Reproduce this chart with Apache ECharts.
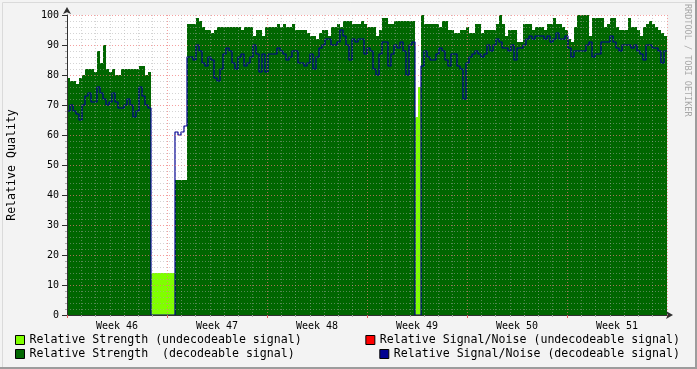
<!DOCTYPE html>
<html><head><meta charset="utf-8">
<script src="https://cdn.jsdelivr.net/npm/echarts@6/dist/echarts.min.js"></script>
<style>html,body{margin:0;padding:0;background:#f3f3f3}#c{width:697px;height:369px}</style>
</head><body><div id="c"></div>
<script>
// 6 weeks (1008 h) sampled in 201 points, every 5.04 h
const weekLabels = ['Week 46','Week 47','Week 48','Week 49','Week 50','Week 51'];
const totalHours = 1008;
const sampleHours = 5.04;

const strengthUndecodeable = [
0,0,0,0,0,0,0,0,0,0,
0,0,0,0,0,0,0,0,0,0,
0,0,0,0,0,0,0,0,14,14,
14,14,14,14,14,14,0,0,0,0,
0,0,0,0,0,0,0,0,0,0,
0,0,0,0,0,0,0,0,0,0,
0,0,0,0,0,0,0,0,0,0,
0,0,0,0,0,0,0,0,0,0,
0,0,0,0,0,0,0,0,0,0,
0,0,0,0,0,0,0,0,0,0,
0,0,0,0,0,0,0,0,0,0,
0,0,0,0,0,0,66,76,0,0,
0,0,0,0,0,0,0,0,0,0,
0,0,0,0,0,0,0,0,0,0,
0,0,0,0,0,0,0,0,0,0,
0,0,0,0,0,0,0,0,0,0,
0,0,0,0,0,0,0,0,0,0,
0,0,0,0,0,0,0,0,0,0,
0,0,0,0,0,0,0,0,0,0,
0,0,0,0,0,0,0,0,0,0,
0];

const strengthDecodeable = [
79,78,78,77,79,80,82,82,82,81,
88,84,90,82,81,82,80,80,82,82,
82,82,82,82,83,83,80,81,0,0,
0,0,0,0,0,0,45,45,45,45,
97,97,97,99,98,96,95,95,94,95,
96,96,96,96,96,96,96,96,95,96,
96,96,93,95,95,93,96,96,96,96,
97,96,97,96,96,97,95,95,95,95,
94,93,93,92,94,95,95,93,96,96,
97,96,98,98,98,97,97,97,98,97,
96,96,96,93,95,99,99,97,97,98,
98,98,98,98,98,98,0,0,100,97,
97,97,97,97,96,98,98,95,95,94,
94,95,95,96,94,94,97,97,94,95,
95,95,95,97,100,97,93,95,95,95,
91,91,97,97,97,95,96,96,96,95,
97,97,99,97,97,96,95,92,91,96,
100,100,100,100,93,99,99,99,99,96,
97,99,99,96,95,95,95,99,96,96,
95,93,96,97,98,97,96,95,94,93,
93];

const snDecodeable = [
68,70,68,67,65,70,73,74,71,71,
76,74,72,70,71,74,71,69,69,70,
72,70,66,68,76,73,70,69,0,0,
0,0,0,0,0,0,61,60,61,63,
86,86,85,90,88,84,83,86,85,79,
78,82,87,89,88,84,82,86,87,83,
84,86,90,87,81,87,81,87,87,87,
89,88,87,85,86,88,88,84,84,83,
84,87,82,86,89,90,92,92,90,90,
91,95,93,90,85,92,91,92,92,87,
89,88,82,80,87,91,91,83,87,90,
89,91,88,80,90,91,0,0,83,88,
86,85,85,87,89,88,85,83,87,87,
83,82,72,84,86,87,88,87,86,87,
90,88,90,92,91,89,89,88,90,85,
89,89,90,92,93,92,93,93,93,92,
93,91,92,94,92,92,93,89,86,88,
88,88,88,90,91,86,87,87,91,91,
91,93,91,89,88,90,90,90,89,90,
88,87,85,90,90,89,89,88,84,88,
88];

const snUndecodeable = [];

const names = [
  'Relative Strength (undecodeable signal)',
  'Relative Strength  (decodeable signal)',
  'Relative Signal/Noise (undecodeable signal)',
  'Relative Signal/Noise (decodeable signal)'
];
const colors = ['#80ff00', '#006600', '#ff0000', '#000090'];

const toXY = arr => arr.map((v, i) => [i * sampleHours, v]);
const mono = 'DejaVu Sans Mono';

const chart = echarts.init(document.getElementById('c'), null, {renderer: 'canvas'});
const legendBase = {
  orient: 'vertical', padding: 0, icon: 'rect', itemWidth: 9, itemHeight: 9,
  itemStyle: {borderColor: '#000', borderWidth: 1},
  textStyle: {fontFamily: mono, fontSize: 11.6, color: '#000'},
  selectedMode: false
};
chart.setOption({
  animation: false,
  backgroundColor: '#f3f3f3',
  textStyle: {fontFamily: mono},
  grid: {left: 67, right: 30, top: 15, bottom: 54, show: true, backgroundColor: '#ffffff', borderWidth: 0,
         containLabel: false, outerBoundsMode: 'none'},
  xAxis: [{
    type: 'value', min: 0, max: totalHours, interval: 168, z: 10,
    axisLine: {show: true, lineStyle: {color: '#303030', width: 1}, symbol: ['none', 'arrow'], symbolSize: [6, 7], symbolOffset: [0, 6]},
    axisTick: {show: true, length: 3, lineStyle: {color: '#e06060'}},
    minorTick: {show: true, splitNumber: 7, length: 2, lineStyle: {color: '#aaaaaa'}},
    axisLabel: {show: false},
    splitLine: {show: true, lineStyle: {color: 'rgba(240,120,120,0.7)', type: [1, 2], width: 1}},
    minorSplitLine: {show: true, lineStyle: {color: 'rgba(170,170,170,0.5)', type: [1, 2], width: 1}}
  }, {
    type: 'category', data: weekLabels, position: 'bottom', boundaryGap: true, z: 10,
    axisLine: {show: false}, axisTick: {show: false}, splitLine: {show: false},
    axisLabel: {show: true, fontFamily: mono, fontSize: 10, color: '#000', margin: 6}
  }],
  yAxis: {
    type: 'value', min: 0, max: 100, interval: 10, z: 10,
    name: 'Relative Quality', nameLocation: 'middle', nameRotate: 90, nameGap: 49,
    nameTextStyle: {fontFamily: mono, fontSize: 11.6, color: '#000'},
    axisLine: {show: true, lineStyle: {color: '#303030', width: 1}, symbol: ['none', 'arrow'], symbolSize: [6, 7], symbolOffset: [0, 8]},
    axisTick: {show: true, length: 5, lineStyle: {color: '#303030'}},
    minorTick: {show: true, splitNumber: 5, length: 2, lineStyle: {color: '#aaaaaa'}},
    axisLabel: {fontFamily: mono, fontSize: 10, color: '#000', margin: 8},
    splitLine: {show: true, lineStyle: {color: 'rgba(240,120,120,0.7)', type: [1, 2], width: 1}},
    minorSplitLine: {show: true, lineStyle: {color: 'rgba(170,170,170,0.5)', type: [1, 2], width: 1}}
  },
  legend: [
    Object.assign({}, legendBase, {data: [names[0]], left: 15, top: 334}),
    Object.assign({}, legendBase, {data: [names[1]], left: 15, top: 348}),
    Object.assign({}, legendBase, {data: [names[2]], right: 17, top: 334}),
    Object.assign({}, legendBase, {data: [names[3]], right: 17, top: 348})
  ],
  series: [
    {name: names[0], type: 'line', step: 'end', data: toXY(strengthUndecodeable), showSymbol: false, symbol: 'none',
     color: colors[0], lineStyle: {width: 0}, areaStyle: {color: colors[0], opacity: 1}, z: 2, silent: true},
    {name: names[1], type: 'line', step: 'end', data: toXY(strengthDecodeable), showSymbol: false, symbol: 'none',
     color: colors[1], lineStyle: {width: 0}, areaStyle: {color: colors[1], opacity: 1}, z: 3, silent: true},
    {name: names[2], type: 'line', step: 'end', data: toXY(snUndecodeable), showSymbol: false, symbol: 'none',
     color: colors[2], lineStyle: {width: 1, color: colors[2]}, z: 4, silent: true},
    {name: names[3], type: 'line', step: 'end', data: toXY(snDecodeable), showSymbol: false, symbol: 'none',
     color: colors[3], lineStyle: {width: 1.2, color: colors[3]}, z: 5, silent: true}
  ],
  graphic: [
    {type: 'text', left: 683, top: 4, rotation: -Math.PI / 2, silent: true,
     style: {text: 'RRDTOOL / TOBI OETIKER', fill: '#a8a8a8', font: '8.5px "DejaVu Sans Mono"'}},
    {type: 'rect', left: 0, top: 0, silent: true, z: -1,
     shape: {x: 0, y: 0, width: 696, height: 368}, style: {fill: 'none', stroke: '#dadada', lineWidth: 1}},
    {type: 'line', silent: true, shape: {x1: 0, y1: 368, x2: 697, y2: 368}, style: {stroke: '#9c9c9c', lineWidth: 2}},
    {type: 'line', silent: true, shape: {x1: 696, y1: 0, x2: 696, y2: 369}, style: {stroke: '#9c9c9c', lineWidth: 2}}
  ]
});
</script>
</body></html>
